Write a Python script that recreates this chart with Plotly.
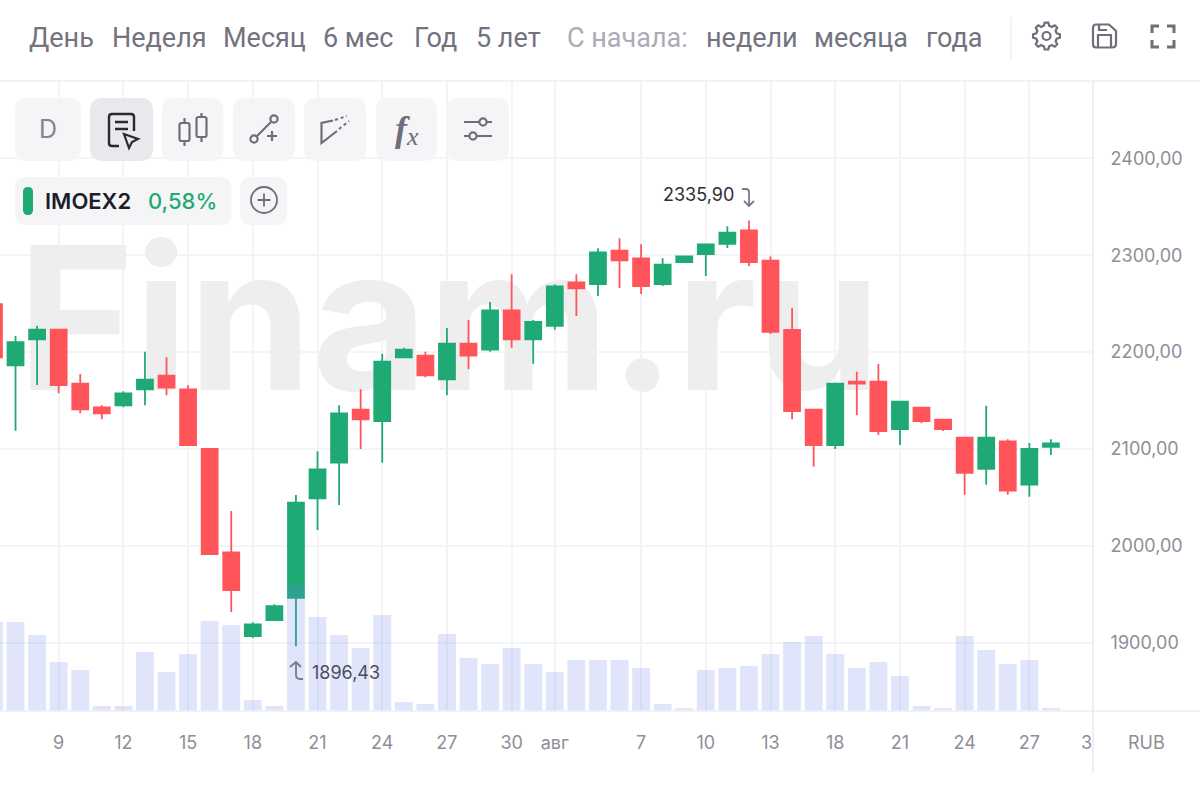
import math
import plotly.graph_objects as go

W = 1200
H = 786
AXIS_X = 1093  # price axis line
AXIS_Y = 711   # time axis line
TOP_Y = 81     # line under the header

# candles, one per trading day, the first one is cut off by the left edge
day = list(range(50))
opens = [2249.6, 2186.4, 2213.2, 2223.1, 2167.4, 2143.0, 2145.1, 2161.6, 2175.6, 2161.6,
         2100.0, 1993.4, 1907.0, 1923.5, 1946.5, 2049.1, 2085.9, 2140.6, 2128.9, 2194.6,
         2196.3, 2171.9, 2208.7, 2202.5, 2243.1, 2213.2, 2227.2, 2272.0, 2270.3, 2304.6,
         2296.8, 2270.3, 2293.0, 2301.2, 2311.6, 2325.7, 2294.5, 2222.8, 2140.6, 2104.1,
         2169.5, 2169.5, 2120.6, 2142.6, 2130.2, 2111.7, 2079.4, 2107.9, 2063.2, 2102.1]
highs = [2249.6, 2216.6, 2227.2, 2223.1, 2177.4, 2145.1, 2159.5, 2200.4, 2194.6, 2165.7,
         2100.0, 2036.0, 1921.2, 1939.7, 2052.5, 2097.6, 2145.1, 2161.6, 2198.3, 2204.5,
         2200.4, 2224.9, 2233.1, 2251.7, 2280.3, 2233.1, 2270.0, 2280.3, 2307.1, 2317.4,
         2311.2, 2296.8, 2298.9, 2311.2, 2329.8, 2335.9, 2298.7, 2245.5, 2140.6, 2167.4,
         2179.8, 2187.7, 2148.8, 2142.6, 2130.2, 2111.7, 2144.7, 2110.0, 2106.2, 2110.0]
lows = [2194.6, 2118.9, 2166.0, 2157.5, 2136.8, 2130.7, 2143.0, 2145.1, 2155.4, 2104.1,
        1991.6, 1931.8, 1905.0, 1923.5, 1896.43, 2016.4, 2042.2, 2100.0, 2085.9, 2194.6,
        2174.0, 2155.4, 2182.2, 2200.4, 2204.5, 2188.0, 2223.1, 2237.3, 2257.9, 2266.2,
        2260.0, 2268.2, 2293.0, 2278.5, 2307.4, 2288.5, 2218.7, 2130.7, 2081.7, 2100.0,
        2134.8, 2114.4, 2104.1, 2126.5, 2118.6, 2052.8, 2063.2, 2052.8, 2050.8, 2093.8]
closes = [2194.6, 2210.4, 2223.1, 2166.0, 2141.0, 2136.8, 2157.5, 2171.5, 2163.3, 2104.1,
          1991.6, 1954.5, 1919.1, 1937.7, 2044.6, 2079.0, 2136.8, 2130.7, 2190.1, 2202.5,
          2176.1, 2208.7, 2196.3, 2243.1, 2213.2, 2231.1, 2267.9, 2265.8, 2303.0, 2294.7,
          2268.2, 2290.2, 2298.9, 2311.2, 2323.2, 2293.0, 2221.0, 2139.2, 2104.1, 2167.4,
          2167.4, 2118.6, 2148.8, 2128.9, 2120.6, 2075.5, 2111.7, 2057.0, 2100.0, 2105.9]
# no scale on the picture for these, arbitrary units
volume = [89, 89, 76, 49, 41, 5, 5, 59, 39, 57,
          90, 86, 11, 5, 126, 94, 76, 63, 96, 9,
          7, 77, 53, 47, 63, 47, 39, 51, 51, 51,
          43, 7, 3, 41, 43, 45, 57, 69, 75, 57,
          43, 49, 35, 5, 3, 75, 61, 47, 51, 3]

date_ticks = [3, 6, 9, 12, 15, 18, 21, 24, 26, 30, 33, 36, 39, 42, 45, 48]
date_labels = ["9", "12", "15", "18", "21", "24", "27", "30", "авг", "7", "10", "13", "18", "21", "24", "27"]
price_ticks = [1900, 2000, 2100, 2200, 2300, 2400]
price_labels = ["1900,00", "2000,00", "2100,00", "2200,00", "2300,00", "2400,00"]

periods = [("День", 28), ("Неделя", 111), ("Месяц", 222), ("6 мес", 322), ("Год", 413), ("5 лет", 475)]
since = [("недели", 705), ("месяца", 813), ("года", 925)]

GREEN = "#1FAA75"
RED = "#FF555A"
GREY = "#73737F"
ICON = "#6E6E7A"
LINE = "#EEEEF4"
GRID = "#F4F4F6"


def pth(d):
    # pixel path -> paper path
    out = []
    is_x = True
    for t in d.split():
        if t.isalpha():
            out.append(t)
            is_x = True
        elif is_x:
            out.append(str(float(t) / W))
            is_x = False
        else:
            out.append(str(1 - float(t) / H))
            is_x = True
    return " ".join(out)


def rrect(x0, y0, x1, y1, r):
    return (f"M {x0+r} {y0} L {x1-r} {y0} Q {x1} {y0} {x1} {y0+r} L {x1} {y1-r} Q {x1} {y1} {x1-r} {y1} "
            f"L {x0+r} {y1} Q {x0} {y1} {x0} {y1-r} L {x0} {y0+r} Q {x0} {y0} {x0+r} {y0} Z")


shapes = []


def stroke(d, color=ICON, width=2.2):
    shapes.append(dict(type="path", xref="paper", yref="paper", path=pth(d), layer="above",
                       line=dict(color=color, width=width)))


def fill(d, color):
    shapes.append(dict(type="path", xref="paper", yref="paper", path=pth(d), layer="above",
                       fillcolor=color, line=dict(width=0)))


def circle(cx, cy, r, color=ICON, width=2.2, bg="rgba(0,0,0,0)"):
    shapes.append(dict(type="circle", xref="paper", yref="paper", layer="above",
                       x0=(cx - r) / W, x1=(cx + r) / W, y0=1 - (cy + r) / H, y1=1 - (cy - r) / H,
                       fillcolor=bg, line=dict(color=color, width=width)))


annotations = []


def label(txt, x, y, size=27, color=GREY, family="Roboto", anchor="left", weight=None, style=None):
    annotations.append(dict(text=txt, x=x / W, y=1 - y / H, xref="paper", yref="paper",
                            xanchor=anchor, yanchor="middle", showarrow=False, borderpad=0,
                            font=dict(size=size, color=color, family=family, weight=weight, style=style)))


# frame lines
stroke(f"M 0 {TOP_Y} L {W} {TOP_Y}", LINE, 1.5)
stroke(f"M 0 {AXIS_Y} L {W} {AXIS_Y}", LINE, 1.5)
stroke(f"M {AXIS_X} {TOP_Y} L {AXIS_X} 773", "#E8E8F0", 1.5)
stroke("M 1011 17 L 1011 60", "#F0F0F3", 1.5)

# header
for name, x in periods:
    label(name, x, 38)
label("С начала:", 566, 38, color="#ABABB5")
for name, x in since:
    label(name, x, 38)

# gear
teeth = []
for k in range(48):
    a = math.radians(k * 7.5)
    r = 13.5 if k % 6 in (0, 1, 5) else 10.5
    teeth.append(("M" if k == 0 else "L") + f" {1046.5 + r * math.cos(a):.2f} {36 + r * math.sin(a):.2f}")
stroke(" ".join(teeth) + " Z")
circle(1046.5, 36, 4)
# save
stroke("M 1096 24.5 L 1109 24.5 L 1116 31 L 1116 44 Q 1116 47.5 1112 47.5 L 1096 47.5 Q 1093 47.5 1093 44 "
       "L 1093 28 Q 1093 24.5 1096 24.5 Z")
stroke("M 1098 47 L 1098 35 L 1111 35 L 1111 47 M 1099 25 L 1099 30 L 1107 30")
# fullscreen
for corner in ("M 1152 33 L 1152 26 L 1159 26", "M 1167 26 L 1174 26 L 1174 33",
               "M 1152 40 L 1152 47 L 1159 47", "M 1167 47 L 1174 47 L 1174 40"):
    stroke(corner, ICON, 3)

# toolbar buttons
for x0, x1 in [(15, 81), (162, 223.5), (233, 295), (304, 366), (376, 437), (447, 509)]:
    fill(rrect(x0, 98, x1, 161, 13), "#F5F5F7")
fill(rrect(90, 98, 153, 161, 13), "#E9E9ED")
label("D", 48, 129, size=25, color="#85858F", family="Inter", anchor="center")
# notes with a cursor
stroke("M 119 146 L 112 146 Q 109 146 109 143 L 109 117 Q 109 114 112 114 L 131 114 Q 134 114 134 117 L 134 131",
       "#2A2A35", 2.4)
stroke("M 115 122 L 128 122 M 115 129 L 128 129", "#2A2A35", 2.4)
stroke("M 124 134 L 138 139 L 132 142 L 129 148 Z", "#2A2A35", 2.2)
# candles
stroke("M 184.5 118 L 184.5 123 M 184.5 141 L 184.5 146 M 201.5 113 L 201.5 117 M 201.5 137 L 201.5 142")
stroke(rrect(179.5, 123, 189.5, 141, 2))
stroke(rrect(196.5, 117, 206.5, 137, 2))
# line tool
stroke("M 257 136 L 271 122")
circle(274, 119, 3.6)
circle(254, 139, 3.6)
stroke("M 272 131 L 272 141 M 267 136 L 277 136")
# channel tool
stroke("M 333 120.5 L 321.5 123 L 321.5 143 L 337 131")
shapes.append(dict(type="path", xref="paper", yref="paper", path=pth("M 335 120 L 347 116 M 339 129 L 349 121"),
                   layer="above", line=dict(color=ICON, width=2, dash="dot")))
label("f", 402, 129, size=36, color=ICON, family="Liberation Serif", anchor="center", weight=700, style="italic")
label("x", 412, 137, size=26, color=ICON, family="Liberation Serif", anchor="center", style="italic")
# sliders
stroke("M 464 122 L 492 122 M 464 136 L 492 136")
circle(483, 122, 3.6, bg="#F5F5F7")
circle(473, 136, 3.6, bg="#F5F5F7")

# ticker
fill(rrect(15, 177, 231.5, 225, 12), "#F5F5F7")
fill(rrect(240, 177, 287, 225, 12), "#F5F5F7")
fill(rrect(23, 187, 33, 215, 5), GREEN)
label("IMOEX2", 44, 201, size=22, color="#1D1D28", family="Inter", weight=600)
label("0,58%", 147, 201, size=22, color=GREEN, family="Inter", weight=500)
circle(264, 200, 13, ICON, 1.8)
stroke("M 264 193.5 L 264 206.5 M 257.5 200 L 270.5 200", ICON, 1.8)

# extremes
label("2335,90", 662, 194, size=18, color="#2E2E38", family="Inter")
stroke("M 742 189 L 746 189 Q 749 189 749 192 L 749 206 M 744 201 L 749 206 L 754 201", "#7A7A88", 1.8)
label("1896,43", 311, 672, size=18, color="#4C4C5E", family="Inter")
stroke("M 290 667 L 296 662 L 301 667 M 296 662 L 296 675 Q 296 679 300 679 L 303 679", "#7A7A88", 1.8)

# axis corner texts
label("3", 1086.5, 742, size=18, color="#8E8E98", family="Inter", anchor="center")
label("RUB", 1146, 742, size=18, color="#8E8E98", family="Inter", anchor="center")

fig = go.Figure()

# watermark, on the base axes so that it stays under candles and volume
fig.add_trace(go.Scatter(x=[21.1], y=[2212], mode="text", text=["Finam.ru"], textposition="middle center",
                         textfont=dict(size=199, color="#EEEEEE", family="Inter", weight=700),
                         hoverinfo="skip", showlegend=False, cliponaxis=True))

fig.add_trace(go.Candlestick(x=day, open=opens, high=highs, low=lows, close=closes, yaxis="y2",
                             whiskerwidth=0, showlegend=False, hoverinfo="skip",
                             increasing=dict(line=dict(color=GREEN, width=1.8), fillcolor=GREEN),
                             decreasing=dict(line=dict(color=RED, width=1.8), fillcolor=RED)))

fig.add_trace(go.Bar(x=day, y=volume, yaxis="y3", width=0.83, marker=dict(color="rgba(110,130,240,0.21)", line=dict(width=0)),
                     hoverinfo="skip", showlegend=False))

tick_font = dict(size=18, color="#8E8E98", family="Inter")
y_range = [1829.6, 2479.8]

fig.update_layout(
    width=W, height=H, margin=dict(l=0, r=0, t=0, b=0), paper_bgcolor="white", plot_bgcolor="white",
    showlegend=False, boxgap=0.14, boxgroupgap=0.14, shapes=shapes, annotations=annotations, hovermode=False,
    xaxis=dict(domain=[0, AXIS_X / W], range=[0.28, 50.95], tickmode="array", tickvals=date_ticks, ticktext=date_labels,
               showgrid=True, gridcolor=GRID, gridwidth=1.5, zeroline=False, showline=False,
               ticks="outside", ticklen=15, tickcolor="rgba(0,0,0,0)", tickfont=tick_font, tickangle=0,
               rangeslider=dict(visible=False), automargin=False),
    yaxis=dict(domain=[1 - AXIS_Y / H, 1 - TOP_Y / H], range=y_range, side="right", tickmode="array",
               tickvals=price_ticks, ticktext=price_labels, showgrid=True, gridcolor=GRID, gridwidth=1.5,
               zeroline=False, showline=False, ticks="outside", ticklen=13, tickcolor="rgba(0,0,0,0)",
               tickfont=tick_font, automargin=False),
    yaxis2=dict(overlaying="y", range=y_range, visible=False),
    yaxis3=dict(overlaying="y", range=[0, 630], visible=False),
)

fig.write_html("out.html", config=dict(displayModeBar=False),
               post_script="document.body.style.margin='0';document.body.style.overflow='hidden';")
